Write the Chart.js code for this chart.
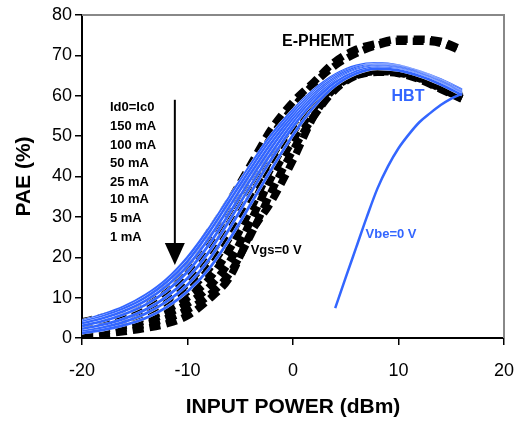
<!DOCTYPE html>
<html>
<head>
<meta charset="utf-8">
<script src="https://cdn.jsdelivr.net/npm/chart.js@4"></script>
<style>
  body { margin: 0; background: #fff; }
  #wrap { width: 518px; height: 423px; }
</style>
</head>
<body>
<div id="wrap"><canvas id="chart" width="518" height="423"></canvas></div>
<script>
// input power points (dBm)
const pin = [-20, -18, -16, -14, -12, -10, -8, -6, -4, -2, 0, 2, 4, 6, 8, 10, 12, 14, 16];

// E-PHEMT PAE (%) per bias, black dashed
const phemt150 = [4.0, 5.2, 6.8, 9.0, 12.5, 18.5, 26, 34, 43, 52, 58.5, 63.5, 68.5, 71.5, 73, 74, 74, 73.5, 71.5];
const phemt100 = [3.5, 4.6, 6.0, 8.0, 11.0, 16.0, 23, 31.5, 41, 50, 57, 63, 67.5, 70.5, 72.5, 73.5, 73.5, 73, 71];
const phemt50  = [3.0, 4.0, 5.3, 7.0, 9.5, 13.5, 20, 28.5, 38, 47.5, 55, 60.5, 64, 66, 66.8, 66.5, 65, 62.5, 59.8];
const phemt25  = [2.5, 3.4, 4.5, 6.0, 8.3, 11.5, 17, 25, 35, 45, 53, 59, 63.5, 65.8, 66.6, 66.3, 64.8, 62.3, 59.6];
const phemt10  = [2.0, 2.8, 3.8, 5.1, 7.0, 10.0, 14.5, 22, 32, 42.5, 51, 58, 63, 65.5, 66.4, 66.1, 64.6, 62.1, 59.5];
const phemt5   = [1.5, 2.2, 3.1, 4.3, 6.0, 8.5, 12.5, 19, 29, 40, 49, 57, 62.5, 65.3, 66.2, 65.9, 64.4, 62, 59.4];
const phemt1   = [1.0, 1.6, 2.4, 3.4, 4.8, 7.0, 10.5, 16, 25.5, 36.5, 46.5, 55, 61.5, 65, 66, 65.7, 64.2, 61.8, 59.3];
const phemtVgs0 = [0.5, 1.0, 1.6, 2.4, 3.5, 5.5, 9.5, 15, 26, 34, 44, 55, 62, 65, 65.8, 65.5, 64, 61.6, 59.2];

// HBT PAE (%) per bias, blue solid
const hbt150 = [4.3, 5.8, 7.8, 10.6, 14.5, 20, 27, 35, 43, 50.5, 56.5, 61.5, 65.2, 67.4, 68, 67.5, 66, 64, 61.5];
const hbt100 = [4.0, 5.4, 7.3, 10, 13.8, 19, 26, 34, 42, 49.5, 55.8, 61, 64.9, 67.1, 67.8, 67.3, 65.9, 63.8, 61.3];
const hbt50  = [3.6, 4.9, 6.7, 9.2, 12.8, 17.8, 24.6, 32.6, 40.8, 48.5, 55, 60.5, 64.5, 66.9, 67.6, 67.1, 65.7, 63.6, 61];
const hbt25  = [3.0, 4.2, 5.9, 8.2, 11.6, 16.4, 23, 31, 39.4, 47.3, 54.2, 59.9, 64.1, 66.6, 67.4, 66.9, 65.5, 63.4, 60.8];
const hbt10  = [2.2, 3.3, 4.8, 7.0, 10.2, 14.8, 21.2, 29.2, 37.8, 46, 53.3, 59.3, 63.7, 66.3, 67.2, 66.7, 65.3, 63.2, 60.6];
const hbt5   = [1.6, 2.6, 4.0, 6.0, 9.0, 13.2, 19.3, 27.2, 36, 44.5, 52.3, 58.6, 63.3, 66, 67, 66.5, 65.1, 63, 60.4];
const hbt1   = [1.2, 2.0, 3.2, 4.9, 7.6, 11.5, 17, 24.5, 33.2, 42, 50.3, 57.3, 62.5, 65.5, 66.7, 66.3, 64.9, 62.8, 60.2];

// HBT at Vbe=0 V (only turns on above ~4 dBm)
const pinVbe0 = [4, 5, 6, 7, 8, 9, 10, 11, 12, 13, 14, 15, 16];
const hbtVbe0 = [7.4, 15, 22.5, 30, 37, 42.5, 47, 50.5, 53.5, 55.7, 57.7, 59.3, 60.5];

const xTicks = [-20, -10, 0, 10, 20];
const biasLabels = ["Id0=Ic0", "150 mA", "100 mA", "50 mA", "25 mA", "10 mA", "5 mA", "1 mA"];

const BLUE = "#3366ff";
const FONT = "'Liberation Sans', Arial, sans-serif";

function pts(xs, ys) { return xs.map((x, i) => ({ x: x, y: ys[i] })); }

const datasets = [];
[phemt150, phemt100, phemt50, phemt25, phemt10, phemt5, phemt1, phemtVgs0].forEach(arr => {
  datasets.push({
    data: pts(pin, arr), borderColor: "#000", borderWidth: 7.5,
    borderDash: [11, 6], borderCapStyle: "butt",
    pointRadius: 0, cubicInterpolationMode: "monotone", order: 100
  });
});
// blue lines get a thin white edge, like the original
[hbt150, hbt100, hbt50, hbt25, hbt10, hbt5, hbt1].forEach((arr, i) => {
  datasets.push({
    data: pts(pin, arr), borderColor: "#fff", borderWidth: 3.0,
    pointRadius: 0, cubicInterpolationMode: "monotone", order: 50 - 2 * i
  });
  datasets.push({
    data: pts(pin, arr), borderColor: BLUE, borderWidth: 2.7,
    pointRadius: 0, cubicInterpolationMode: "monotone", order: 49 - 2 * i
  });
});
datasets.push({
  data: pts(pinVbe0, hbtVbe0), borderColor: BLUE, borderWidth: 2.5,
  pointRadius: 0, cubicInterpolationMode: "monotone", order: 1
});

// frame on top/right, arrow and text labels
const notes = {
  id: "notes",
  afterDraw(chart) {
    const c = chart.ctx, xs = chart.scales.x, ys = chart.scales.y, a = chart.chartArea;
    const X = v => xs.getPixelForValue(v), Y = v => ys.getPixelForValue(v);
    c.save();
    c.strokeStyle = "#888"; c.lineWidth = 2;
    c.beginPath(); c.moveTo(a.left, a.top); c.lineTo(a.right, a.top); c.lineTo(a.right, a.bottom); c.stroke();

    // arrow
    c.strokeStyle = "#000"; c.fillStyle = "#000"; c.lineWidth = 2;
    c.beginPath(); c.moveTo(X(-11.2), Y(59)); c.lineTo(X(-11.2), Y(23.5)); c.stroke();
    c.beginPath(); c.moveTo(X(-12.15), Y(23.5)); c.lineTo(X(-10.25), Y(23.5)); c.lineTo(X(-11.2), Y(18.1)); c.closePath(); c.fill();

    c.textBaseline = "middle";
    c.textAlign = "left";
    c.font = "bold 13px " + FONT;
    const rowY = [57.2, 52.5, 47.8, 43.3, 38.6, 34.2, 29.7, 25.0];
    biasLabels.forEach((t, i) => c.fillText(t, X(-17.35), Y(rowY[i])));

    c.textAlign = "center";
    c.fillText("Vgs=0 V", X(-1.6), Y(21.7));
    c.font = "bold 16px " + FONT;
    c.fillText("E-PHEMT", X(2.37), Y(73.3));
    c.fillStyle = BLUE;
    c.fillText("HBT", X(10.9), Y(59.7));
    c.font = "bold 13px " + FONT;
    c.fillText("Vbe=0 V", X(9.29), Y(25.7));
    c.restore();
  }
};

new Chart(document.getElementById("chart").getContext("2d"), {
  type: "line",
  data: { datasets },
  options: {
    responsive: false,
    animation: false,
    layout: { padding: { top: 15, right: 14, bottom: 0, left: 0 } },
    plugins: { legend: { display: false }, tooltip: { enabled: false } },
    scales: {
      x: {
        type: "linear", min: -20, max: 20,
        afterFit: s => { s.height = 85; s.paddingLeft = 0; s.paddingRight = 0; },
        afterBuildTicks: s => { s.ticks = xTicks.map(v => ({ value: v })); },
        grid: { drawOnChartArea: false, tickLength: 7, color: "#000", lineWidth: 1.5 },
        border: { color: "#000", width: 2 },
        ticks: { color: "#000", padding: 15, font: { family: FONT, size: 18 } },
        title: { display: true, text: "INPUT POWER (dBm)", color: "#000", padding: { top: 0, bottom: 3 },
                 font: { family: FONT, size: 21, weight: "bold" } }
      },
      y: {
        min: 0, max: 80,
        afterFit: s => { s.width = 82; },
        grid: { drawOnChartArea: false, tickLength: 7, color: "#000", lineWidth: 1.5 },
        border: { color: "#000", width: 2 },
        ticks: { stepSize: 10, color: "#000", padding: 3, font: { family: FONT, size: 18 } },
        title: { display: true, text: "PAE (%)", color: "#000", padding: { top: 12, bottom: 0 },
                 font: { family: FONT, size: 21, weight: "bold" } }
      }
    }
  },
  plugins: [notes]
});
</script>
</body>
</html>
